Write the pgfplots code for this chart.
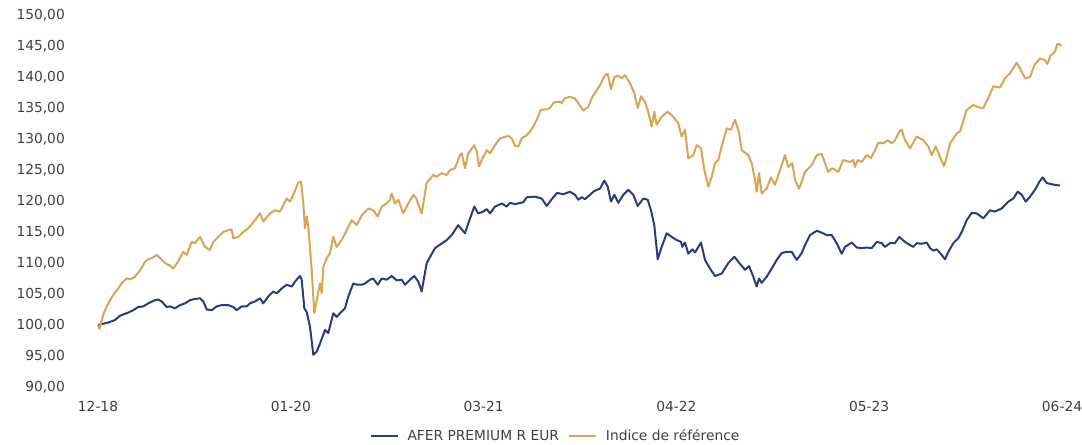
\documentclass[border=0pt]{standalone}
\usepackage{pgfplots}
\pgfplotsset{compat=1.18}
\usepackage{pgfplotstable}
\usepackage{fontspec}
\setmainfont{DejaVu Sans}
\definecolor{fundblue}{RGB}{44,58,132}
\definecolor{indexgold}{RGB}{214,166,86}
\definecolor{txtgray}{RGB}{64,64,64}

\pgfplotstableread{
x y
98 100.0
99.5 99.4
104 102.0
108.3 103.5
113 104.8
118.3 105.9
122 106.8
126.7 107.5
131 107.4
135 107.8
140 108.8
145 110.2
148.3 110.6
152 110.8
156.7 111.3
160 110.8
163 110.3
166.7 109.8
170 109.6
173.3 109.1
178 110.2
183.3 111.8
186.7 111.3
191.7 113.4
195 113.2
200 114.2
205 112.6
210 112.1
213.3 113.4
218.3 114.2
223.3 115.0
228.3 115.3
231.7 115.4
233.3 114.0
238.3 114.2
243.3 115.0
248.3 115.6
255 116.9
260 118.0
263.3 116.7
270 118.0
275 118.5
280 118.3
286.7 120.4
290 119.9
293.3 121.0
298.3 123.0
301 123.1
303.3 119.6
305 115.6
306.7 117.5
308.3 115.9
311.7 108.9
314.3 101.9
316.7 104.0
320 106.7
321.7 105.1
323.3 109.4
326.7 110.8
330 111.6
333.3 114.2
336.7 112.6
341.7 113.7
346.7 115.3
351.7 116.9
356.7 116.1
361.7 117.7
368.3 118.8
373.3 118.5
377.7 117.5
381.7 119.1
386.7 119.6
390 120.2
391.7 121.2
395 119.6
398.3 120.2
403.3 118.0
408.3 119.6
413.3 121.0
416 120.5
421.7 118.0
426.7 122.9
433.3 124.2
436.7 123.9
441.7 124.5
446.7 124.2
450 125.0
455 125.3
460 127.4
461.7 127.7
465 125.3
468.3 127.7
474.3 129.0
476.7 128.0
479 125.6
481.7 126.6
486.7 128.2
490 127.7
495 129.0
500 130.1
508.3 130.5
511.7 130.1
515 128.9
518.3 128.8
521.7 130.1
526.7 130.6
530 131.2
533.3 132.0
536.7 133.1
541 134.7
546.7 134.8
550 135.0
553.3 135.8
556.7 136.0
560 136.0
561.7 135.8
565 136.6
570 136.8
575 136.5
579 135.6
583.3 134.6
588.3 135.2
591.7 136.6
595 137.4
600 138.7
605 140.3
607.7 140.5
611 138.0
614.3 140.0
618.3 140.2
621.7 139.8
625 140.3
630 139.0
634.3 137.4
637.7 135.0
641 136.9
645 136.0
647.7 134.7
651.7 132.0
654.3 134.4
656.7 132.3
661.7 133.6
667.7 134.4
673.3 133.6
678.3 132.5
681.7 130.4
685 131.5
688.3 126.9
693.3 127.4
696.7 129.0
701 128.5
704.3 125.0
708.3 122.3
711.7 123.9
715 126.1
718.3 126.6
721.7 128.8
726.7 131.7
731 131.5
735 133.1
739 131.0
741.7 128.2
748.3 127.4
751.7 126.1
755 123.4
756.7 121.5
759 124.5
761.7 121.2
766.7 122.0
771 123.8
775 122.6
780 125.0
785 127.4
788.3 125.5
792.3 126.1
795 123.4
799 122.0
801.7 123.1
805 124.7
811.7 125.8
816.7 127.4
821.7 127.6
825 126.1
828.3 124.7
832.3 125.3
838.3 124.7
843.3 126.6
850 126.3
853.3 126.6
855 125.5
857.7 126.6
861.7 126.3
866.7 127.4
871 126.9
875 128.2
878.3 129.4
883.3 129.3
887.7 129.8
891.7 129.3
895 129.8
899.3 131.2
901.7 131.5
905 129.8
910 128.5
916.7 130.4
923.3 129.8
928.3 128.8
931.7 127.4
935.7 128.8
940 127.1
944 125.6
946.7 127.1
950 129.3
956.7 130.9
960 131.2
966.7 134.7
973.3 135.5
978.3 135.1
983.3 135.0
988.3 136.6
993.3 138.5
1000 138.3
1005 139.8
1010 140.6
1016.7 142.3
1020 141.4
1025 139.8
1030 140.0
1034.3 141.9
1040 143.0
1045 142.7
1047.3 142.1
1050.7 143.5
1055 144.1
1057.3 145.3
1059.3 145.3
1061 145.0
}\indexdata

\pgfplotstableread{
x y
98.3 100.0
103.3 100.2
108.3 100.4
115 100.8
120 101.5
128.3 102.0
133.3 102.4
138.3 102.9
143.3 103.0
148.3 103.5
155 104.0
158.3 104.1
161.7 103.8
166.7 102.9
170 103.0
175 102.7
180 103.2
185 103.5
190 104.0
195 104.2
200 104.3
203.3 103.8
206.7 102.5
211.7 102.4
216.7 103.0
221.7 103.2
228.3 103.2
233.3 102.9
236.7 102.4
241.7 103.0
246.7 103.0
250 103.5
255 103.8
260 104.3
263.3 103.5
268.3 104.6
273.3 105.4
276.7 105.1
281.7 105.9
286.7 106.5
291.7 106.2
295 107.0
300 107.9
301.7 107.3
304.3 102.7
306.7 102.1
310 99.7
313.3 95.2
316.7 95.7
320 97.0
325 99.2
328.3 98.7
333.3 101.9
336.7 101.3
340 101.9
345 102.7
348.3 104.6
353.3 106.7
356.7 106.5
361.7 106.5
365 106.7
370 107.3
373.3 107.5
377.7 106.5
381.7 107.5
386.7 107.3
391.7 107.9
396.7 107.2
401.7 107.3
405 106.5
410 107.3
414.3 107.9
418.3 107.0
421.7 105.4
426.7 110.0
435 112.4
446.7 113.7
451.7 114.5
458.3 116.1
465 114.8
468.3 116.4
474.3 119.1
478.3 118.0
483.3 118.3
486.7 118.7
490 118.0
495 119.1
501.7 119.6
506.7 119.1
510 119.7
515 119.5
523.3 119.8
526.7 120.6
535 120.7
541.7 120.4
546.7 119.2
551.7 120.3
557 121.3
563.3 121.1
570 121.5
575 121.0
578.3 120.2
581.7 120.6
585 120.3
590 121.0
593.3 121.5
596.7 121.8
600 122.0
604.3 123.3
607.7 122.3
611 119.9
614.3 121.0
618.3 119.7
623.3 121.0
628.3 121.8
633.3 121.0
637.7 119.2
643.3 120.4
647.7 120.2
651 118.5
654.3 116.1
657.7 110.6
661.7 112.6
666.7 114.8
671.7 114.2
676.7 113.7
681 113.4
682.3 112.6
685 113.3
688.3 111.5
692.3 112.2
695 111.7
701 113.3
705 110.5
710 109.1
715 107.9
721.7 108.3
728.3 110.0
734.3 111.0
739.3 110.0
745 108.9
749 109.5
753.3 107.8
756.7 106.2
759 107.5
761.7 106.8
766.7 107.8
771.7 109.1
776.7 110.5
781.7 111.6
786.7 111.8
791.7 111.8
796.7 110.5
801.7 111.6
805 112.9
810 114.5
816.7 115.2
821.7 114.9
826.7 114.5
831.7 114.5
836.7 113.2
841.7 111.5
845 112.6
851.7 113.3
856.7 112.5
861.7 112.4
866.7 112.5
871.7 112.4
876.7 113.4
881.7 113.2
885 112.6
890 113.2
895 113.2
899.3 114.2
905 113.4
910 112.9
913.3 112.6
916.7 113.2
921.7 113.1
926.7 113.3
930 112.4
933.3 112.0
936.7 112.2
941.7 111.3
945 110.6
948.3 111.8
953.3 113.2
958.3 114.0
961.7 115.0
966.7 116.9
971.7 118.1
976.7 118.0
983.3 117.2
990 118.5
995 118.3
1001.7 118.8
1008.3 119.9
1013.3 120.4
1017.7 121.5
1021.7 121.0
1025.7 119.9
1030 120.7
1035 121.8
1039.3 123.1
1042.7 123.8
1046.7 122.9
1051.7 122.7
1055 122.6
1060 122.5
}\funddata

\begin{document}
\begin{tikzpicture}
\useasboundingbox (0,0) rectangle (1082bp,445bp);
\begin{axis}[
  at={(98bp,58bp)}, anchor=south west,
  scale only axis, width=964bp, height=372bp,
  xmin=98, xmax=1062, ymin=90, ymax=150,
  clip=false,
  axis line style={draw=none},
  major tick style={draw=none},
  xtick={98,290.8,483.6,676.4,869.2,1062},
  xticklabels={12-18,01-20,03-21,04-22,05-23,06-24},
  ytick={90,95,...,150},
  font=\fontsize{13.8bp}{16bp}\selectfont,
  tick label style={text=txtgray},
  xticklabel style={anchor=north, inner sep=0pt, yshift=-14bp},
  yticklabel style={anchor=east, inner sep=0pt, xshift=-33bp,
    /pgf/number format/.cd, fixed, fixed zerofill, precision=2, use comma, assume math mode=true},
  legend columns=2,
  legend style={at={(0.4745,-0.1317)}, anchor=center, draw=none, fill=none,
    text=txtgray, font=\fontsize{13.8bp}{16bp}\selectfont,
    /tikz/every even column/.append style={column sep=7bp}},
  legend image code/.code={\draw[#1] (0bp,0bp) -- (27bp,0bp); \path (34bp,0bp);},
]
\addplot[fundblue, line width=2bp, line join=round] table[x=x,y=y] {\funddata};
\addlegendentry{AFER PREMIUM R EUR}
\addplot[indexgold, line width=2bp, line join=round] table[x=x,y=y] {\indexdata};
\addlegendentry{Indice de référence}
\end{axis}
\end{tikzpicture}
\end{document}
